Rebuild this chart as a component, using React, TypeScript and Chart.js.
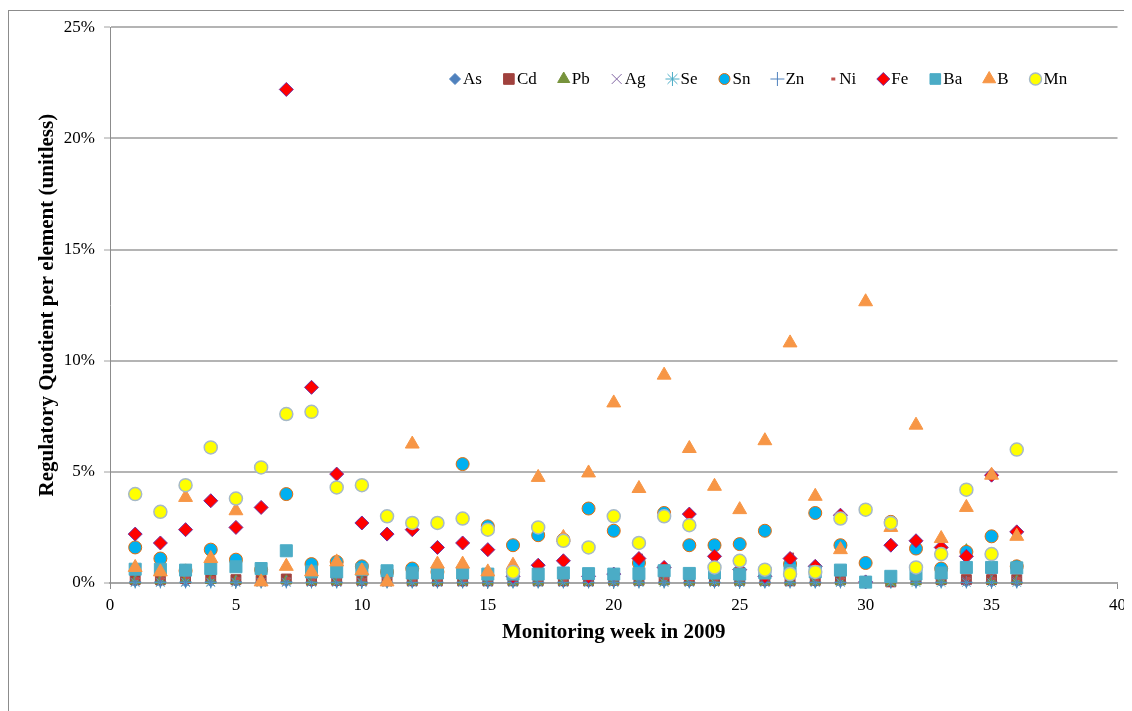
import React, { useEffect, useRef } from 'react';
import { Chart, registerables } from 'chart.js';
import { drawPoint } from 'chart.js/helpers';

Chart.register(...registerables);

// ---------- DATA ----------
const weeks = [1, 2, 3, 4, 5, 6, 7, 8, 9, 10, 11, 12, 13, 14, 15, 16, 17, 18, 19, 20, 21, 22, 23, 24, 25, 26, 27, 28, 29, 30, 31, 32, 33, 34, 35, 36];

const xTicks = [0, 5, 10, 15, 20, 25, 30, 35, 40];
const yTicks = [0, 5, 10, 15, 20, 25];

const xTitle = 'Monitoring week in 2009';
const yTitle = 'Regulatory Quotient per element (unitless)';

const seriesNames = ['As', 'Cd', 'Pb', 'Ag', 'Se', 'Sn', 'Zn', 'Ni', 'Fe', 'Ba', 'B', 'Mn'];

const As = [0.05, 0.05, 0.04, 0.05, 0.05, 0.03, 0.05, 0.04, 0.04, 0.04, 0.03, 0.03, 0.03, 0.03, 0.03, 0.03, 0.03, 0.03, 0.03, 0.04, 0.04, 0.04, 0.03, 0.03, 0.03, 0.03, 0.04, 0.03, 0.04, 0.02, 0.02, 0.04, 0.04, 0.04, 0.04, 0.04];
const Cd = [0.15, 0.15, 0.2, 0.2, 0.15, 0.12, 0.18, 0.12, 0.12, 0.12, 0.1, 0.1, 0.1, 0.1, 0.1, 0.1, 0.1, 0.1, 0.1, 0.12, 0.12, 0.15, 0.12, 0.12, 0.12, 0.12, 0.1, 0.12, 0.15, 0.05, 0.05, 0.15, 0.15, 0.15, 0.15, 0.15];
const Pb = [0.1, 0.1, 0.15, 0.12, 0.1, 0.08, 0.1, 0.08, 0.08, 0.08, 0.06, 0.06, 0.06, 0.06, 0.06, 0.05, 0.05, 0.06, 0.05, 0.06, 0.06, 0.06, 0.05, 0.05, 0.05, 0.05, 0.06, 0.05, 0.06, 0.03, 0.03, 0.06, 0.1, 1.5, 0.1, 0.1];
const Ag = [0.05, 0.05, 0.05, 0.05, 0.05, 0.04, 0.05, 0.04, 0.04, 0.04, 0.04, 0.04, 0.04, 0.04, 0.04, 0.04, 0.04, 0.04, 0.04, 0.05, 0.05, 0.05, 0.04, 0.04, 0.04, 0.04, 0.05, 0.04, 0.05, 0.03, 0.03, 0.75, 0.7, 0.1, 0.3, 0.1];
const Se = [0.02, 0.02, 0.02, 0.02, 0.02, 0.02, 0.02, 0.02, 0.02, 0.02, 0.02, 0.02, 0.02, 0.02, 0.02, 0.02, 0.02, 0.02, 0.02, 0.02, 0.02, 0.02, 0.02, 0.02, 0.02, 0.02, 0.02, 0.02, 0.02, 0.02, 0.02, 0.02, 0.02, 0.02, 0.02, 0.02];
const Sn = [1.6, 1.1, 0.55, 1.5, 1.05, 0.6, 4.0, 0.85, 0.95, 0.75, 0.5, 0.65, 0.5, 5.35, 2.55, 1.7, 2.15, 1.95, 3.35, 2.35, 0.9, 3.15, 1.7, 1.7, 1.75, 2.35, 0.85, 3.15, 1.7, 0.9, 2.75, 1.55, 0.65, 1.4, 2.1, 0.75];
const Zn = [0.05, 0.05, 0.05, 0.05, 0.05, 0.04, 0.05, 0.04, 0.04, 0.04, 0.04, 0.04, 0.04, 0.04, 0.04, 0.04, 0.04, 0.04, 0.04, 0.04, 0.04, 0.04, 0.04, 0.04, 0.04, 0.04, 0.04, 0.04, 0.04, 0.03, 0.03, 0.04, 0.04, 0.04, 0.04, 0.04];
const Ni = [0.2, 0.2, 0.25, 0.25, 0.2, 0.15, 0.2, 0.15, 0.15, 0.15, 0.12, 0.12, 0.12, 0.12, 0.12, 0.12, 0.12, 0.12, 0.12, 0.15, 1.25, 0.2, 0.15, 0.15, 0.15, 0.15, 1.3, 0.15, 0.2, 0.08, 0.08, 0.2, 0.2, 0.2, 0.2, 0.2];
const Fe = [2.2, 1.8, 2.4, 3.7, 2.5, 3.4, 22.2, 8.8, 4.9, 2.7, 2.2, 2.4, 1.6, 1.8, 1.5, 0.3, 0.8, 1.0, 0.3, 0.4, 1.1, 0.7, 3.1, 1.2, 0.6, 0.3, 1.1, 0.75, 3.05, 0.05, 1.7, 1.9, 1.6, 1.2, 4.85, 2.3];
const Ba = [0.62, 0.62, 0.58, 0.65, 0.73, 0.65, 1.45, 0.5, 0.5, 0.6, 0.55, 0.45, 0.45, 0.45, 0.4, 0.4, 0.4, 0.45, 0.42, 0.4, 0.42, 0.55, 0.43, 0.45, 0.4, 0.45, 0.55, 0.5, 0.58, 0.04, 0.3, 0.4, 0.45, 0.7, 0.7, 0.68];
const B = [0.7, 0.5, 3.85, 1.1, 3.25, 0.05, 0.75, 0.5, 0.95, 0.55, 0.05, 6.25, 0.85, 0.85, 0.5, 0.8, 4.75, 2.05, 4.95, 8.1, 4.25, 9.35, 6.05, 4.35, 3.3, 6.4, 10.8, 3.9, 1.5, 12.65, 2.5, 7.1, 2.0, 3.4, 4.85, 2.1];
const Mn = [4.0, 3.2, 4.4, 6.1, 3.8, 5.2, 7.6, 7.7, 4.3, 4.4, 3.0, 2.7, 2.7, 2.9, 2.4, 0.5, 2.5, 1.9, 1.6, 3.0, 1.8, 3.0, 2.6, 0.7, 1.0, 0.6, 0.4, 0.5, 2.9, 3.3, 2.7, 0.7, 1.3, 4.2, 1.3, 6.0];

const seriesValues = [As, Cd, Pb, Ag, Se, Sn, Zn, Ni, Fe, Ba, B, Mn];

// ---------- STYLES ----------
const FONT = "'Liberation Serif', 'Times New Roman', serif";

type Sty = { style: string; fill: string; stroke: string; bw: number; r: number; lr: number };
const styles: Sty[] = [
  { style: 'rectRot', fill: '#4F81BD', stroke: '#4F81BD', bw: 1, r: 5, lr: 5.5 },
  { style: 'rect', fill: '#A0413D', stroke: '#A0413D', bw: 1, r: 7, lr: 7.5 },
  { style: 'triangle', fill: '#77933C', stroke: '#77933C', bw: 1, r: 6, lr: 7 },
  { style: 'crossRot', fill: '#8064A2', stroke: '#8064A2', bw: 1, r: 6, lr: 7 },
  { style: 'star', fill: '#4BACC6', stroke: '#4BACC6', bw: 1, r: 6, lr: 7 },
  { style: 'circle', fill: '#00B0F0', stroke: '#E46C0A', bw: 1, r: 6.5, lr: 5.5 },
  { style: 'cross', fill: '#4F81BD', stroke: '#4F81BD', bw: 1, r: 6, lr: 7 },
  { style: 'dash', fill: '#C0504D', stroke: '#C0504D', bw: 3, r: 4, lr: 4 },
  { style: 'rectRot', fill: '#FF0000', stroke: '#7030A0', bw: 1, r: 7, lr: 6.5 },
  { style: 'rect', fill: '#4BACC6', stroke: '#4BACC6', bw: 1, r: 8.5, lr: 7.5 },
  { style: 'triangle', fill: '#F79646', stroke: '#F79646', bw: 1, r: 8, lr: 7.5 },
  { style: 'circle', fill: '#FFFF00', stroke: '#A6B9C8', bw: 1.5, r: 6.5, lr: 6 },
];

const legendPlugin = {
  id: 'inlineLegend',
  afterDraw(chart: any) {
    const ctx = chart.ctx;
    ctx.save();
    ctx.font = `17px ${FONT}`;
    ctx.textBaseline = 'middle';
    ctx.textAlign = 'left';
    const y = 71;
    let x = 441;
    const gap = 21;
    seriesNames.forEach((name, i) => {
      const s = styles[i];
      ctx.fillStyle = s.fill;
      ctx.strokeStyle = s.stroke;
      ctx.lineWidth = s.bw;
      drawPoint(ctx, { pointStyle: s.style as any, radius: s.lr, borderWidth: s.bw, rotation: 0 }, x + 6, y);
      ctx.fillStyle = '#000';
      ctx.fillText(name, x + 14, y + 1);
      x += 14 + ctx.measureText(name).width + gap;
    });
    ctx.restore();
  },
};

export default function App() {
  const ref = useRef<HTMLCanvasElement | null>(null);

  useEffect(() => {
    document.documentElement.style.overflow = 'hidden';
    document.body.style.overflow = 'hidden';
    if (!ref.current) return;
    const datasets = seriesNames.map((name, i) => {
      const s = styles[i];
      return {
        label: name,
        data: weeks.map((w, k) => ({ x: w, y: seriesValues[i][k] })),
        pointStyle: s.style,
        pointRadius: s.r,
        pointBackgroundColor: s.fill,
        pointBorderColor: s.stroke,
        pointBorderWidth: s.bw,
        backgroundColor: s.fill,
        borderColor: s.stroke,
        showLine: false,
        clip: false,
        order: seriesNames.length - i,
      };
    });
    const chart = new Chart(ref.current, {
      type: 'scatter',
      data: { datasets: datasets as any },
      plugins: [legendPlugin as any],
      options: {
        animation: false,
        responsive: false,
        devicePixelRatio: 1,
        layout: { padding: { left: 27, right: 14, top: 16, bottom: 66 } },
        plugins: { legend: { display: false }, tooltip: { enabled: false } },
        scales: {
          x: {
            type: 'linear',
            min: 0,
            max: 40,
            afterBuildTicks: (s: any) => { s.ticks = xTicks.map((v) => ({ value: v })); },
            afterFit: (s: any) => { s.height = 62; },
            ticks: { color: '#000', font: { family: FONT, size: 17 }, padding: 6, maxRotation: 0 },
            grid: { display: true, drawOnChartArea: false, drawTicks: true, tickLength: 6, color: '#8c8c8c', lineWidth: 1 },
            border: { display: true, color: '#a6a6a6', width: 2 },
            title: { display: true, text: xTitle, color: '#000', font: { family: FONT, size: 21, weight: 'bold' }, padding: 0 },
          },
          y: {
            type: 'linear',
            min: 0,
            max: 25,
            afterBuildTicks: (s: any) => { s.ticks = yTicks.map((v) => ({ value: v })); },
            afterFit: (s: any) => { s.width = 75; },
            ticks: { color: '#000', font: { family: FONT, size: 17 }, padding: 9, callback: (v: any) => `${v}%` },
            grid: { color: '#b4b4b4', lineWidth: 2, tickLength: 6, tickColor: '#a0a0a0', tickWidth: 1 },
            border: { display: true, color: '#8c8c8c', width: 1 },
            title: { display: true, text: yTitle, color: '#000', font: { family: FONT, size: 21, weight: 'bold' }, padding: 0 },
          },
        },
      } as any,
    });
    return () => chart.destroy();
  }, []);

  return (
    <div style={{ position: 'relative', width: 1124, height: 703 }}>
      <div
        style={{
          position: 'absolute',
          left: 0,
          top: 2,
          width: 1124,
          height: 760,
          borderLeft: '1px solid #8c8c8c',
          borderTop: '1px solid #8c8c8c',
          boxSizing: 'border-box',
          pointerEvents: 'none',
        }}
      />
      <canvas ref={ref} width={1124} height={703} style={{ position: 'absolute', left: 0, top: 0, width: 1124, height: 703 }} />
    </div>
  );
}
